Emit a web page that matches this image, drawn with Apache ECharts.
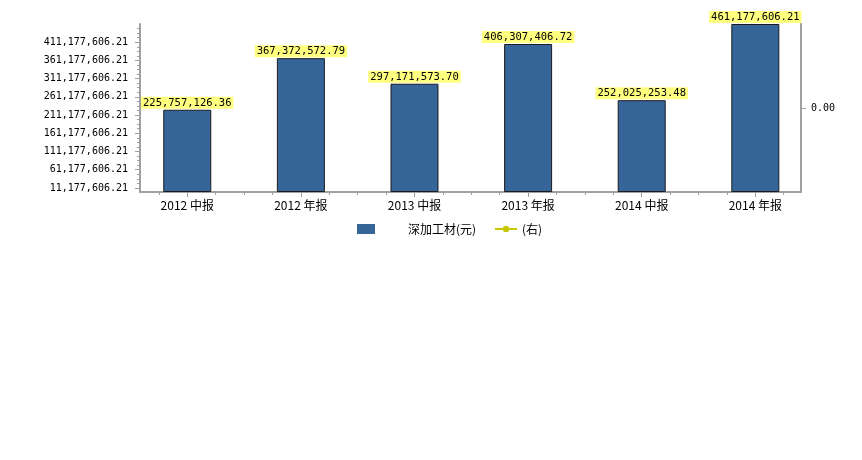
<!DOCTYPE html>
<html>
<head>
<meta charset="utf-8">
<script src="https://cdn.jsdelivr.net/npm/echarts@6/dist/echarts.min.js"></script>
<style>
  html, body { margin: 0; padding: 0; background: #fff; }
  #chart { width: 862px; height: 460px; }
</style>
</head>
<body>
<div id="chart"></div>
<script>
var categories = ["2012 中报", "2012 年报", "2013 中报", "2013 年报", "2014 中报", "2014 年报"];
var barValues = [225757126.36, 367372572.79, 297171573.70, 406307406.72, 252025253.48, 461177606.21];
var rightValues = [];
var yTicks = [11177606.21, 61177606.21, 111177606.21, 161177606.21, 211177606.21,
  261177606.21, 311177606.21, 361177606.21, 411177606.21];
var rightTicks = [0];

var mono = "DejaVu Sans Mono";
var cjk = "'Noto Sans CJK SC', 'DejaVu Sans', sans-serif";
var axisGray = "#a0a0a0";

function money(v) {
  return v.toLocaleString("en-US", { minimumFractionDigits: 2, maximumFractionDigits: 2 });
}

// minor tick marks (quarter steps)
var yMinor = [];
for (var v = yTicks[0] + 12500000; v <= 461177606.21; v += 12500000) {
  if (Math.abs((v - yTicks[0]) % 50000000) > 1) yMinor.push(v);
}
var xMinor = [];
for (var i = -1; i < categories.length; i++) {
  [0.25, 0.5, 0.75].forEach(function (f) {
    if (i + f > -0.416 && i + f < 5.402) xMinor.push(i + f);
  });
}
var catIdx = categories.map(function (c, i) { return i; });

var chart = echarts.init(document.getElementById("chart"));

var option = {
  animation: false,
  grid: { left: 140, right: 61, top: 24, bottom: 268, containLabel: false },
  legend: [
    {
      data: [{ name: "深加工材(元)", icon: "rect", itemStyle: { borderWidth: 0 } }],
      left: 357, top: 223, padding: 0,
      itemWidth: 18, itemHeight: 10,
      textStyle: { fontFamily: cjk, fontSize: 12, color: "#000", padding: [0, 0, 0, 28] }
    },
    {
      data: ["(右)"],
      left: 494, top: 223, padding: 0,
      itemWidth: 22, itemHeight: 8,
      textStyle: { fontFamily: cjk, fontSize: 12, color: "#000" }
    }
  ],
  xAxis: [
    {
      type: "value",
      min: -0.416, max: 5.402,
      position: "bottom",
      splitLine: { show: false },
      axisLine: { onZero: false, lineStyle: { color: axisGray, width: 2 } },
      axisTick: { customValues: catIdx, length: 5, lineStyle: { color: axisGray } },
      axisLabel: {
        customValues: catIdx,
        margin: 7,
        fontFamily: cjk, fontSize: 12, color: "#000",
        formatter: function (v) { return categories[Math.round(v)]; }
      }
    },
    {
      type: "value",
      min: -0.416, max: 5.402,
      position: "bottom", offset: 0,
      splitLine: { show: false },
      axisLine: { show: false, onZero: false },
      axisTick: { customValues: xMinor, length: 3, lineStyle: { color: axisGray } },
      axisLabel: { show: false }
    }
  ],
  yAxis: [
    {
      type: "value",
      min: 0, max: 461177606.21,
      position: "left",
      splitLine: { show: false },
      axisLine: { show: true, onZero: false, lineStyle: { color: axisGray, width: 2 } },
      axisTick: { show: true, customValues: yTicks, length: 5, lineStyle: { color: axisGray } },
      axisLabel: {
        customValues: yTicks,
        margin: 12,
        fontFamily: mono, fontSize: 10, color: "#000",
        formatter: money
      }
    },
    {
      type: "value",
      min: -1, max: 1,
      position: "right",
      splitLine: { show: false },
      axisLine: { show: true, onZero: false, lineStyle: { color: axisGray, width: 2 } },
      axisTick: { show: true, customValues: rightTicks, length: 5, lineStyle: { color: axisGray } },
      axisLabel: {
        customValues: rightTicks,
        margin: 10,
        fontFamily: mono, fontSize: 10, color: "#000",
        formatter: function (v) { return v.toFixed(2); }
      }
    },
    {
      type: "value",
      min: 0, max: 461177606.21,
      position: "left", offset: 0,
      splitLine: { show: false },
      axisLine: { show: false, onZero: false },
      axisTick: { show: true, customValues: yMinor, length: 3, lineStyle: { color: axisGray } },
      axisLabel: { show: false }
    }
  ],
  series: [
    {
      name: "深加工材(元)",
      type: "bar",
      xAxisIndex: 0,
      yAxisIndex: 0,
      barWidth: 48,
      data: barValues.map(function (v, i) { return [i, v]; }),
      itemStyle: { color: "#36659a", borderColor: "#1c1c1c", borderWidth: 1 },
      label: {
        show: true,
        position: "top",
        distance: 1,
        fontFamily: mono, fontSize: 10.5, color: "#000",
        backgroundColor: "#ffff80",
        padding: [1, 2, 0, 2],
        formatter: function (p) { return money(p.value[1]); }
      }
    },
    {
      name: "(右)",
      type: "line",
      xAxisIndex: 0,
      yAxisIndex: 1,
      data: rightValues,
      symbol: "circle",
      symbolSize: 3,
      itemStyle: { color: "#c8c800" },
      lineStyle: { color: "#c8c800", width: 2 }
    }
  ]
};

chart.setOption(option);
</script>
</body>
</html>
